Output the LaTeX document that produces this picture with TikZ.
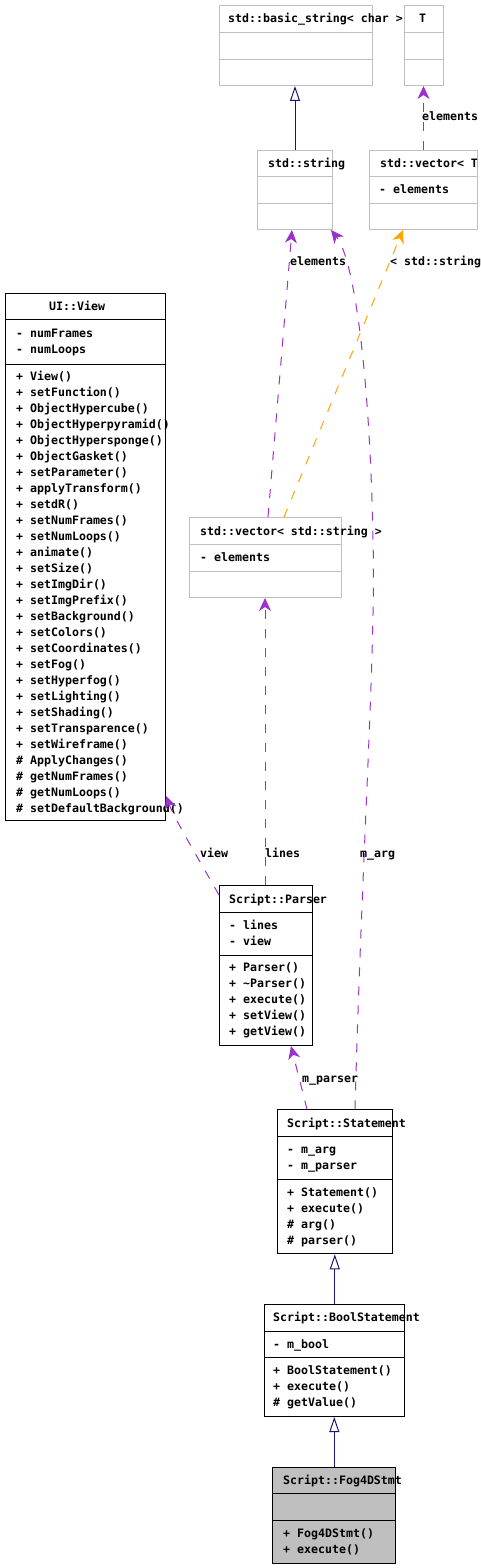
\documentclass[tikz,border=0pt]{standalone}
\usepackage{fontspec}
\setmonofont{DejaVu Sans Mono}
\usetikzlibrary{arrows.meta,calc}
\definecolor{umlgray}{HTML}{BFBFBF}
\definecolor{usage}{HTML}{9A32CD}
\definecolor{tmpl}{HTML}{FFA500}
\definecolor{inhc}{HTML}{191970}
\tikzset{
  cls/.style={draw=black, line width=1pt, anchor=north west, inner sep=0pt},
  gcls/.style={cls, draw=umlgray},
  txt/.style={font=\ttfamily\bfseries\fontsize{11.6}{12}\selectfont, anchor=base west, inner sep=0pt},
  sepline/.style={line width=1pt, draw=black},
  gsepline/.style={line width=1pt, draw=umlgray},
  inh/.style={draw=inhc, line width=1pt, -{Triangle[open, length=15pt, width=10pt, fill=white]}},
  use/.style={draw=usage, line width=1pt, dash pattern=on 9pt off 10pt, -{Stealth[length=13pt, width=12pt, inset=4pt]}},
  tpl/.style={draw=tmpl, line width=1pt, dash pattern=on 9pt off 10pt, -{Stealth[length=13pt, width=12pt, inset=4pt]}},
}
\begin{document}
\begin{tikzpicture}[x=1pt,y=-1pt]
\useasboundingbox (0,0) rectangle (481,1568);

% ---- std::basic_string< char >
\node[gcls, minimum width=153pt, minimum height=80pt] (basic) at (219,5) {};
\draw[gsepline] (basic.west |- 0,33) -- (basic.east |- 0,33);
\draw[gsepline] (basic.west |- 0,60) -- (basic.east |- 0,60);
\node[txt] (basic-t) at (228,23) {std::basic\_string< char >};

% ---- T
\node[gcls, minimum width=39pt, minimum height=80pt] (T) at (404,5) {};
\draw[gsepline] (T.west |- 0,33) -- (T.east |- 0,33);
\draw[gsepline] (T.west |- 0,60) -- (T.east |- 0,60);
\node[txt] (T-t) at (419,23) {T};

% ---- std::string
\node[gcls, minimum width=75pt, minimum height=79pt] (string) at (257,150) {};
\draw[gsepline] (string.west |- 0,176) -- (string.east |- 0,176);
\draw[gsepline] (string.west |- 0,203) -- (string.east |- 0,203);
\node[txt] (string-t) at (268,167) {std::string};

% ---- std::vector< T >
\node[gcls, minimum width=108pt, minimum height=79pt] (vecT) at (369,150) {};
\draw[gsepline] (vecT.west |- 0,176) -- (vecT.east |- 0,176);
\draw[gsepline] (vecT.west |- 0,203) -- (vecT.east |- 0,203);
\node[txt] (vecT-t) at (380,167) {std::vector< T};
\node[txt] (vecT-a) at (379,193.5) {- elements};

% ---- UI::View
\node[cls, minimum width=160pt, minimum height=527pt] (view) at (5,293) {};
\draw[sepline] (view.west |- 0,319) -- (view.east |- 0,319);
\draw[sepline] (view.west |- 0,364) -- (view.east |- 0,364);
\node[txt] (view-t) at (49,310) {UI::View};
\node[txt] (view-a1) at (16,337) {- numFrames};
\node[txt] (view-a2) at (16,353) {- numLoops};
\foreach \m [count=\i from 0] in {+ View(),+ setFunction(),+ ObjectHypercube(),+ ObjectHyperpyramid(),+ ObjectHypersponge(),+ ObjectGasket(),+ setParameter(),+ applyTransform(),+ setdR(),+ setNumFrames(),+ setNumLoops(),+ animate(),+ setSize(),+ setImgDir(),+ setImgPrefix(),+ setBackground(),+ setColors(),+ setCoordinates(),+ setFog(),+ setHyperfog(),+ setLighting(),+ setShading(),+ setTransparence(),+ setWireframe(),\# ApplyChanges(),\# getNumFrames(),\# getNumLoops(),\# setDefaultBackground()}
  \node[txt] (view-m\i) at (16,380+16*\i) {\m};

% ---- std::vector< std::string >
\node[gcls, minimum width=152pt, minimum height=80pt] (vecS) at (189,517) {};
\draw[gsepline] (vecS.west |- 0,544) -- (vecS.east |- 0,544);
\draw[gsepline] (vecS.west |- 0,571) -- (vecS.east |- 0,571);
\node[txt] (vecS-t) at (200,535) {std::vector< std::string >};
\node[txt] (vecS-a) at (200,561.5) {- elements};

% ---- Script::Parser
\node[cls, minimum width=93pt, minimum height=160pt] (parser) at (219,885) {};
\draw[sepline] (parser.west |- 0,912) -- (parser.east |- 0,912);
\draw[sepline] (parser.west |- 0,955) -- (parser.east |- 0,955);
\node[txt] (parser-t) at (229,903) {Script::Parser};
\node[txt] (parser-a1) at (229,929.3) {- lines};
\node[txt] (parser-a2) at (229,945.3) {- view};
\foreach \m [count=\i from 0] in {+ Parser(),+ \textasciitilde Parser(),+ execute(),+ setView(),+ getView()}
  \node[txt] (parser-m\i) at (229,971.3+16*\i) {\m};

% ---- Script::Statement
\node[cls, minimum width=114.5pt, minimum height=144pt] (stmt) at (277.3,1109.3) {};
\draw[sepline] (stmt.west |- 0,1136.3) -- (stmt.east |- 0,1136.3);
\draw[sepline] (stmt.west |- 0,1179) -- (stmt.east |- 0,1179);
\node[txt] (stmt-t) at (287,1127) {Script::Statement};
\node[txt] (stmt-a1) at (287,1153.3) {- m\_arg};
\node[txt] (stmt-a2) at (287,1169.3) {- m\_parser};
\foreach \m [count=\i from 0] in {+ Statement(),+ execute(),\# arg(),\# parser()}
  \node[txt] (stmt-m\i) at (287,1196+16*\i) {\m};

% ---- Script::BoolStatement
\node[cls, minimum width=140pt, minimum height=111.7pt] (bool) at (264.3,1304.3) {};
\draw[sepline] (bool.west |- 0,1331) -- (bool.east |- 0,1331);
\draw[sepline] (bool.west |- 0,1357.7) -- (bool.east |- 0,1357.7);
\node[txt] (bool-t) at (273,1321.3) {Script::BoolStatement};
\node[txt] (bool-a1) at (273,1348) {- m\_bool};
\foreach \m [count=\i from 0] in {+ BoolStatement(),+ execute(),\# getValue()}
  \node[txt] (bool-m\i) at (273,1374.7+16*\i) {\m};

% ---- Script::Fog4DStmt
\node[cls, fill=umlgray, minimum width=123pt, minimum height=96pt] (fog) at (272.3,1467.3) {};
\draw[sepline] (fog.west |- 0,1493.7) -- (fog.east |- 0,1493.7);
\draw[sepline] (fog.west |- 0,1520.3) -- (fog.east |- 0,1520.3);
\node[txt] (fog-t) at (283,1484) {Script::Fog4DStmt};
\foreach \m [count=\i from 0] in {+ Fog4DStmt(),+ execute()}
  \node[txt] (fog-m\i) at (283,1537.3+16*\i) {\m};

% ---- inheritance
\draw[inh] (string.north) -- (string.north |- basic.south);
\draw[inh] (bool.north) -- (bool.north |- stmt.south);
\draw[inh] (fog.north) -- (fog.north |- bool.south);

% ---- usage relations
\draw[use] (vecT.north) -- (vecT.north |- T.south);
\node[txt] (lbl-el1) at (422,121) {elements};

\draw[use] (268,0 |- vecS.north) -- (292,0 |- string.south);
\node[txt] (lbl-el2) at (290,265) {elements};

\draw[tpl] (284,0 |- vecS.north) -- (403,0 |- vecT.south);
\node[txt] (lbl-tpl) at (390,265) {< std::string};

\draw[use] (355,0 |- stmt.north) .. controls (362,850) and (376,650) .. (373,540)
  .. controls (370,380) and (355,260) .. (331,0 |- string.south);
\node[txt] (lbl-arg) at (360,857) {m\_arg};

\draw[use] (parser.west |- 0,895) .. controls (205,870) and (175,820) .. (view.east |- 0,796);
\node[txt] (lbl-view) at (200,857) {view};

\draw[use] (265,0 |- parser.north) -- (265,0 |- vecS.south);
\node[txt] (lbl-lines) at (265,857) {lines};

\draw[use] (307,0 |- stmt.north) -- (291,0 |- parser.south);
\node[txt] (lbl-parser) at (302,1082) {m\_parser};
\end{tikzpicture}
\end{document}
